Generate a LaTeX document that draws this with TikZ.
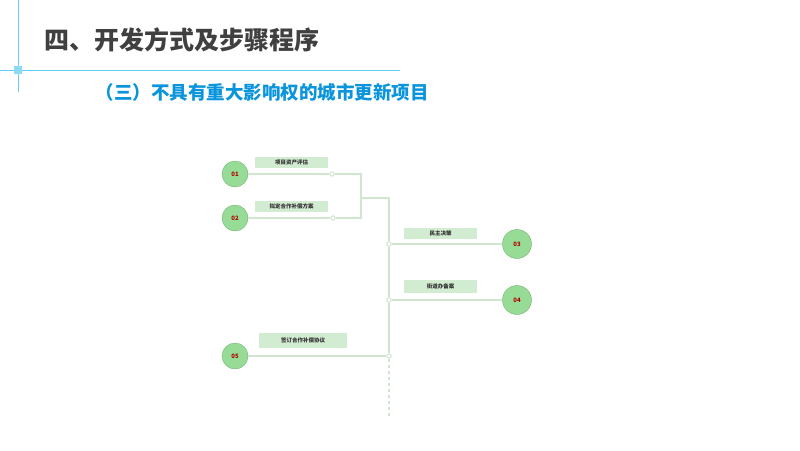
\documentclass[tikz,border=0pt]{standalone}
\usepackage{fontspec}
\newfontfamily\cjk{Noto Sans CJK SC}
\begin{document}
\begin{tikzpicture}[x=1pt,y=-1pt,
 num/.style={circle,fill=green!50!gray!55,draw=green!45!black!55,minimum size=26pt,inner sep=0pt,font=\cjk\fontsize{6}{6}\selectfont\bfseries,text=red!70!black},
 lab/.style={fill=green!40!gray!25,minimum height=11pt,inner sep=1pt,font=\cjk\fontsize{5.5}{6}\selectfont\bfseries,text=black!80},
 ln/.style={draw=green!30!gray!28,line width=1.2pt},
 dot/.style={circle,draw=green!30!gray!35,fill=white,line width=0.8pt,minimum size=4.5pt,inner sep=0pt}]
\useasboundingbox (0,0) rectangle (800,450);
\draw[cyan!60,line width=0.6pt] (18,0) -- (18,92) (0,70) -- (400,70);
\fill[cyan!45] (14,66) rectangle (22,74);
\node[anchor=west,font=\cjk\fontsize{25}{25}\selectfont\bfseries,text=black!75] (t) at (41,40) {四、开发方式及步骤程序};
\node[anchor=west,font=\cjk\fontsize{18.5}{18.5}\selectfont\bfseries,text=cyan!80!blue] (s) at (92,92) {（三）不具有重大影响权的城市更新项目};
\node[num] (n1) at (235,174) {01};
\node[num] (n2) at (235,218) {02};
\node[num,minimum size=29pt] (n3) at (517,244) {03};
\node[num,minimum size=29pt] (n4) at (517,300) {04};
\node[num] (n5) at (235,356) {05};
\node[dot] (d1) at (332,174) {};
\node[dot] (d2) at (333,218) {};
\node[dot] (d3) at (389,244) {};
\node[dot] (d4) at (389,300) {};
\node[dot] (d5) at (389,356) {};
\coordinate (j) at (361,198);
\coordinate (k) at (389,198);
\coordinate (e) at (389,418);
\draw[ln] (n1) -- (d1) -- (361,174) -- (j);
\draw[ln] (n2) -- (d2) -- (361,218) -- (j);
\draw[ln] (j) -- (k) -- (d3) -- (d4) -- (d5);
\draw[ln,dashed] (d5) -- (e);
\draw[ln] (d3) -- (n3);
\draw[ln] (d4) -- (n4);
\draw[ln] (n5) -- (d5);
\node[lab,minimum width=73pt] (l1) at (291.5,162) {项目资产评估};
\node[lab,minimum width=73pt] (l2) at (291.5,206) {拟定合作补偿方案};
\node[lab,minimum width=73pt] (l3) at (440.5,233) {民主决策};
\node[lab,minimum width=73pt,minimum height=13pt] (l4) at (440.5,286) {街道办备案};
\node[lab,minimum width=88pt,minimum height=15pt] (l5) at (303,340.5) {签订合作补偿协议};
\end{tikzpicture}
\end{document}
